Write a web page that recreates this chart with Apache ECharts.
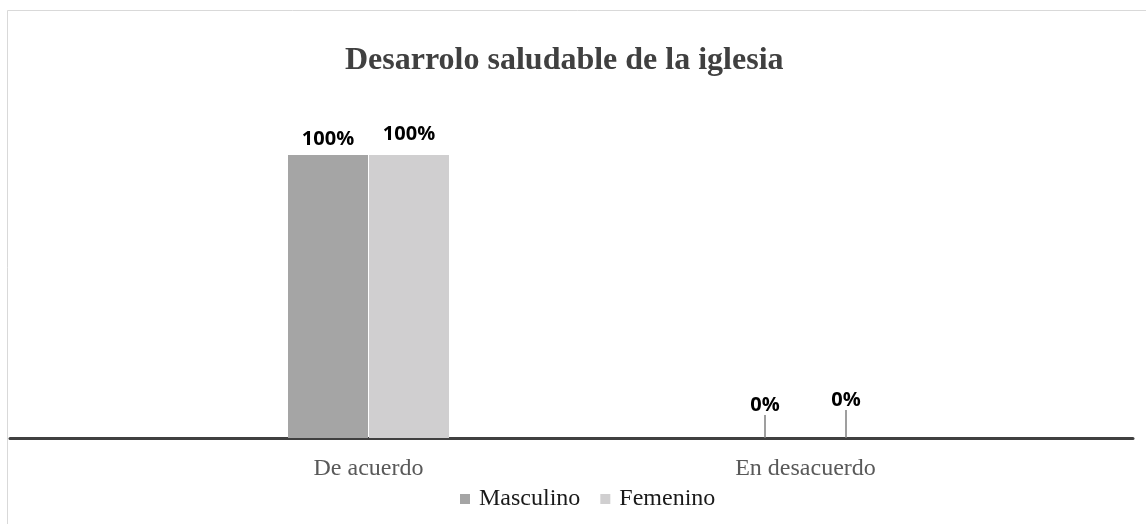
<!DOCTYPE html>
<html>
<head>
<meta charset="utf-8">
<script src="https://cdn.jsdelivr.net/npm/echarts@6/dist/echarts.min.js"></script>
<style>
  html, body { margin: 0; padding: 0; background: #fff; }
  #container { width: 1146px; height: 524px; }
</style>
</head>
<body>
<div id="container"></div>
<script>
var categories = ["De acuerdo", "En desacuerdo"];
var masculino = [100, 0];
var femenino = [100, 0];

var dom = document.getElementById("container");
var myChart = echarts.init(dom, null, { renderer: "canvas" });

var serif = "'Liberation Serif', 'DejaVu Serif', serif";
var sans = "'Open Sans', Roboto, sans-serif";

function buildData(values) {
  return values.map(function (v) {
    if (v === 0) {
      return { value: v, labelLine: { show: true, lineStyle: { color: "#7f7f7f", width: 1.5 } } };
    }
    return { value: v };
  });
}

function labelCfg() {
  return {
    show: true,
    position: "top",
    distance: 6,
    formatter: "{c}%",
    fontFamily: sans,
    fontWeight: "bold",
    fontSize: 20,
    color: "#000",
  };
}

// label shift: zero values are lifted above a leader line, Femenino sits a bit higher
function shiftLabels(extra) {
  return function (p) {
    return { dy: (p.dataIndex === 1 ? -17 : 0) + extra };
  };
}

var option = {
  backgroundColor: "#fff",
  animation: false,
  graphic: [
    {
      type: "rect",
      shape: { x: 7.5, y: 10.5, width: 1160, height: 600 },
      style: { fill: "none", stroke: "#d9d9d9", lineWidth: 1 },
      silent: true,
    },
  ],
  title: {
    text: "Desarrolo saludable de la iglesia",
    left: 340,
    top: 40,
    textStyle: {
      fontFamily: serif,
      fontWeight: "bold",
      fontSize: 32,
      color: "#404040",
    },
  },
  legend: {
    left: 455,
    top: 482,
    icon: "rect",
    itemWidth: 10,
    itemHeight: 10,
    itemGap: 20,
    textStyle: { fontFamily: serif, fontSize: 24, color: "#1a1a1a", padding: [0, 0, 0, 4] },
    data: ["Masculino", "Femenino"],
  },
  grid: [
    { left: 150, right: 122, top: 155, bottom: 86 },
    { left: 10, right: 13, top: 155, bottom: 86 },
  ],
  xAxis: [
    {
      type: "category",
      gridIndex: 0,
      data: categories,
      axisLine: { show: false },
      axisTick: { show: false },
      axisLabel: {
        margin: 19,
        fontFamily: serif,
        fontSize: 24,
        color: "#595959",
      },
    },
    {
      type: "category",
      gridIndex: 1,
      data: [""],
      axisLine: { show: true, lineStyle: { color: "#404040", width: 3 } },
      axisTick: { show: false },
      axisLabel: { show: false },
    },
  ],
  yAxis: [
    { type: "value", gridIndex: 0, min: 0, max: 100, show: false },
    { type: "value", gridIndex: 1, min: 0, max: 100, show: false },
  ],
  series: [
    {
      name: "Masculino",
      type: "bar",
      xAxisIndex: 0,
      yAxisIndex: 0,
      barWidth: 80,
      barGap: "1.25%",
      data: buildData(masculino),
      itemStyle: { color: "#a5a5a5" },
      label: labelCfg(),
      labelLayout: shiftLabels(0),
    },
    {
      name: "Femenino",
      type: "bar",
      xAxisIndex: 0,
      yAxisIndex: 0,
      barWidth: 80,
      data: buildData(femenino),
      itemStyle: { color: "#d0cfd0" },
      label: labelCfg(),
      labelLayout: shiftLabels(-5),
    },
  ],
};

if (option && typeof option === "object") {
  myChart.setOption(option);
}

window.addEventListener("resize", myChart.resize);
</script>
</body>
</html>
